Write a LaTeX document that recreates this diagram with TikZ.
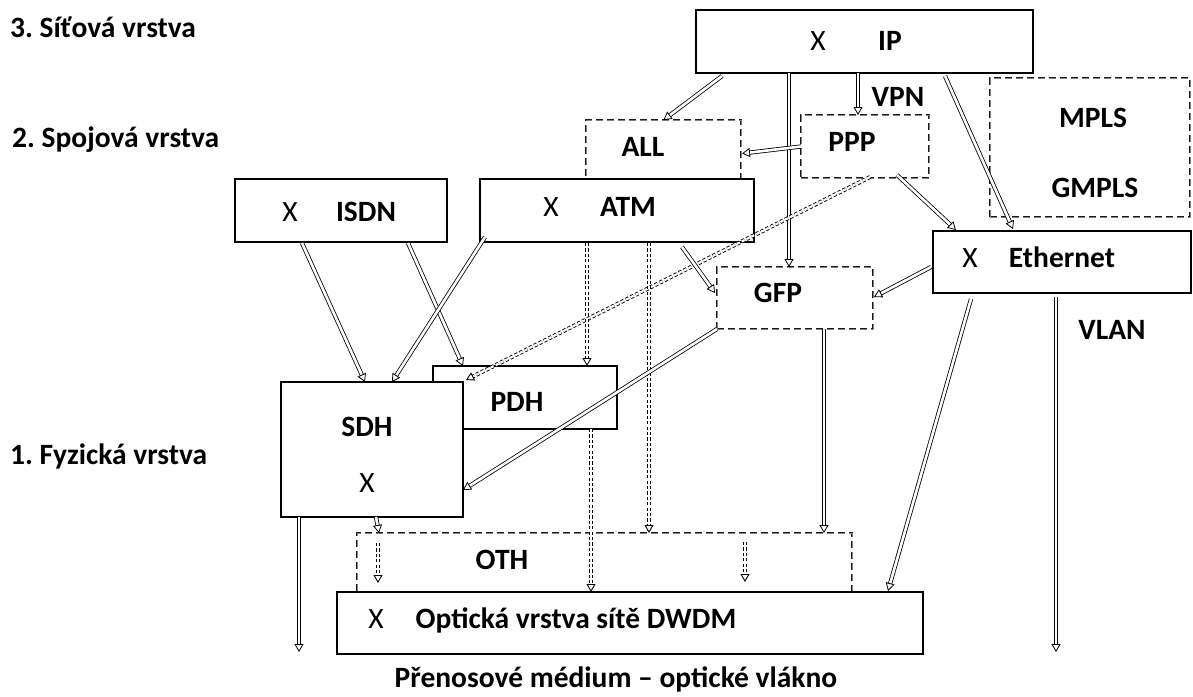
\documentclass[tikz,border=0pt]{standalone}
\usepackage{fontspec}
\setmainfont{Carlito}
\usepackage{tikz}
\usetikzlibrary{
    arrows.meta,
    calc
}
\frenchspacing
\tikzstyle{box} = [draw, line width=1.8pt, fill=white, rectangle, inner sep=0pt, outer sep=0pt, anchor=north west]
\tikzstyle{dbox} = [draw=black!90, line width=0.8pt, double=black!50, double distance=1pt, dash pattern=on 7pt off 4pt, rectangle, inner sep=0pt, outer sep=0pt, anchor=north west]
\tikzstyle{lbl} = [font=\fontsize{29.5}{34}\selectfont\bfseries, inner sep=0pt, text height=19pt, text depth=0pt]
\tikzstyle{xm} = [font=\fontsize{29.5}{34}\selectfont, inner sep=0pt, text height=19pt, text depth=0pt]
\tikzstyle{arrow} = [draw, line width=0.8pt, double, double distance=2.6pt, -{Triangle[open, length=8pt, width=9pt]}]
\tikzstyle{dotarrow} = [arrow, line width=0.9pt, double distance=2.2pt, dash pattern=on 3.2pt off 2.2pt]

\begin{document}
\begin{tikzpicture}[x=1pt, y=-1pt]
    \useasboundingbox (0,0) rectangle (1193,696);

    \node[lbl, anchor=west] (l3) at (10,28) {3. Síťová vrstva};
    \node[lbl, anchor=west] (l2) at (12,138) {2. Spojová vrstva};
    \node[lbl, anchor=west] (l1) at (10,455) {1. Fyzická vrstva};
    \node[lbl] (medium) at (616,678) {Přenosové médium – optické vlákno};

    \node[dbox, minimum width=155pt, minimum height=59pt] (all) at (586,120) {};
    \node[dbox, minimum width=128pt, minimum height=63pt] (ppp) at (801,115) {};
    \node[dbox, minimum width=200pt, minimum height=139pt] (mpls) at (990,78) {};
    \node[dbox, minimum width=156pt, minimum height=62pt] (gfp) at (717,267) {};
    \node[dbox, minimum width=495pt, minimum height=59pt] (oth) at (357,533) {};

    \node[box, minimum width=337pt, minimum height=63pt] (ip) at (696,10) {};
    \node[box, minimum width=212pt, minimum height=63pt] (isdn) at (235,179) {};
    \node[box, minimum width=274pt, minimum height=63pt] (atm) at (480,179) {};
    \node[box, minimum width=258pt, minimum height=62pt] (eth) at (933,231) {};
    \node[box, minimum width=184pt, minimum height=63pt] (pdh) at (433,366) {};
    \node[box, minimum width=182pt, minimum height=135pt] (sdh) at (281,382) {};
    \node[box, minimum width=586pt, minimum height=62pt] (dwdm) at (337,592) {};

    \node[xm] (ip-x) at (818,41) {X};
    \node[lbl] (ip-t) at (890,41) {IP};
    \node[lbl] (vpn) at (898,97) {VPN};
    \node[lbl] (all-t) at (643,147) {ALL};
    \node[lbl] (ppp-t) at (852,142) {PPP};
    \node[lbl] (mpls-t) at (1093,118) {MPLS};
    \node[lbl] (gmpls-t) at (1095,188) {GMPLS};
    \node[xm] (isdn-x) at (290,212) {X};
    \node[lbl] (isdn-t) at (366,212) {ISDN};
    \node[xm] (atm-x) at (551,207) {X};
    \node[lbl] (atm-t) at (628,207) {ATM};
    \node[xm] (eth-x) at (970,258) {X};
    \node[lbl] (eth-t) at (1062,258) {Ethernet};
    \node[lbl] (gfp-t) at (778,293) {GFP};
    \node[lbl] (vlan) at (1112,330) {VLAN};
    \node[lbl] (pdh-t) at (517,402) {PDH};
    \node[lbl] (sdh-t) at (367,427) {SDH};
    \node[xm] (sdh-x) at (367,483) {X};
    \node[lbl] (oth-t) at (502,560) {OTH};
    \node[xm] (dwdm-x) at (376,619) {X};
    \node[lbl] (dwdm-t) at (576,619) {Optická vrstva sítě DWDM};

    \coordinate (sdhend) at (299,652);
    \coordinate (vlanend) at (1056,652);

    \draw[arrow] ($(ip.south west)+(26,3)$) -- (all.north);
    \draw[arrow] ($(ip.south west)+(93,0)$) -- ($(gfp.north west)+(72,0)$);
    \draw[arrow] ($(ip.south west)+(162,0)$) -- ($(ppp.north west)+(57,0)$);
    \draw[arrow] ($(ip.south west)+(249,3)$) -- ($(eth.north west)+(80,-2)$);
    \draw[arrow] (ppp.west) -- ($(all.east)+(1,4)$);
    \draw[arrow] ($(ppp.south west)+(96,-3)$) -- ($(eth.north west)+(23,-1)$);
    \draw[dotarrow] ($(ppp.south west)+(69,-1)$) -- ($(sdh.north east)+(3,-2)$);
    \draw[arrow] ($(isdn.south west)+(67,1)$) -- ($(sdh.north west)+(84,0)$);
    \draw[arrow] ($(isdn.south west)+(173,1)$) -- ($(pdh.north west)+(30,0)$);
    \draw[arrow] ($(atm.south west)+(5,-5)$) -- ($(sdh.north west)+(111,0)$);
    \draw[dotarrow] ($(atm.south west)+(107,1)$) -- ($(pdh.north west)+(154,0)$);
    \draw[dotarrow] ($(atm.south west)+(169,1)$) -- ($(oth.north west)+(292,0)$);
    \draw[arrow] ($(atm.south west)+(202,5)$) -- ($(gfp.west)+(-2,-5)$);
    \draw[arrow] ($(eth.south west)+(-2,-26)$) -- ($(gfp.east)+(1,-1)$);
    \draw[arrow] (gfp.south west) -- ($(sdh.south east)+(0,-27)$);
    \draw[arrow] ($(gfp.south west)+(107,0)$) -- ($(oth.north west)+(467,0)$);
    \draw[arrow] ($(eth.south west)+(38,6)$) -- ($(dwdm.north west)+(551,-1)$);
    \draw[arrow] ($(eth.south west)+(123,4)$) -- (vlanend);
    \draw[arrow] ($(sdh.south west)+(18,0)$) -- (sdhend);
    \draw[arrow] ($(sdh.south west)+(95,0)$) -- ($(oth.north west)+(22,0)$);
    \draw[dotarrow] ($(pdh.south west)+(158,0)$) -- ($(dwdm.north west)+(254,0)$);
    \draw[dotarrow] ($(oth.north west)+(21,10)$) -- ($(dwdm.north west)+(41,-9)$);
    \draw[dotarrow] ($(oth.north west)+(388,9)$) -- ($(dwdm.north west)+(408,-10)$);
\end{tikzpicture}
\end{document}
